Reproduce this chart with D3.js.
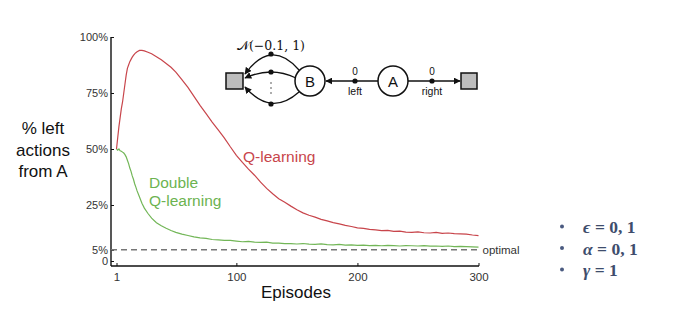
<!DOCTYPE html>
<html>
<head>
<meta charset="utf-8">
<script src="https://cdn.jsdelivr.net/npm/d3@7"></script>
<style>
  body { margin: 0; background: #fff; }
  text { font-family: "Liberation Sans", Arial, sans-serif; }
</style>
</head>
<body>
<div id="chart"></div>
<script>
var episodes = [1, 2, 3, 4, 5, 6, 7, 8, 9, 10, 11, 12, 13, 14, 15, 16, 17, 18, 20, 22, 24, 27, 30, 34, 38, 42, 46, 50, 55, 60, 65, 70, 75, 80, 85, 90, 95, 100,
  105, 110, 115, 120, 125, 130, 135, 140, 145, 150, 155, 160, 165, 170, 175, 180, 185, 190, 195, 200,
  205, 210, 215, 220, 225, 230, 235, 240, 245, 250, 255, 260, 265, 270, 275, 280, 285, 290, 295, 300]

// % left actions from A
var qLearning = [50, 55, 60, 64, 68, 71, 75, 79, 83, 86, 87.5, 89, 90, 91, 91.8, 92.5, 93, 93.4, 94, 94, 93.8, 93.2, 92.5, 91.2, 89.8, 88.2, 86.5, 84.3, 81, 77.5, 73.5, 69.5, 65.8, 62, 58.5, 55, 51, 47.2,
  44, 41, 38.3, 35.2, 32.4, 30, 27.8, 26.2, 24.5, 22.9, 21.5, 20.4, 19.6, 18.6, 17.9, 17.1, 16.6, 15.9, 15.4, 14.8,
  14.6, 14.1, 13.9, 13.6, 13.7, 13.2, 13.3, 12.9, 12.8, 13.0, 12.6, 12.5, 12.8, 12.3, 12.5, 12.2, 12.1, 12.0, 11.6, 11.3]
var doubleQ = [50, 49.5, 50, 49.2, 49, 48.6, 48.2, 47.5, 46.5, 45, 43.5, 41.5, 40, 38, 36.5, 34.5, 33, 31.3, 28.6, 25.8, 23.6, 21.2, 19.1, 17.1, 15.7, 14.6, 13.6, 12.8, 12, 11.4, 10.8, 10.3, 10.1, 9.6, 9.4, 9.2, 9.2, 8.9,
  8.6, 8.8, 8.4, 8.3, 8.4, 8.0, 8.0, 7.8, 7.8, 7.6, 7.8, 7.5, 7.4, 7.6, 7.3, 7.2, 7.4, 7.1, 7.2, 7.0,
  7.1, 6.9, 7.0, 6.8, 7.0, 6.9, 6.7, 6.9, 6.8, 6.7, 6.9, 6.6, 6.7, 6.5, 6.7, 6.4, 6.5, 6.4, 6.3, 6.2]

var optimal = 5
var yTicks = [0, 5, 25, 50, 75, 100]
var yTickLabels = ['0', '5%', '25%', '50%', '75%', '100%']
var xTicks = [1, 100, 200, 300]

var params = [{ sym: 'ϵ', val: ' = 0, 1' }, { sym: 'α', val: ' = 0, 1' }, { sym: 'γ', val: ' = 1' }]

var width = 678, height = 327

var svg = d3.select('#chart').append('svg')
  .attr('width', width)
  .attr('height', height)

var x = d3.scaleLinear().domain([1, 300]).range([116.5, 478.5])
var y = d3.scaleLinear().domain([0, 100]).range([261, 37])

var axisX0 = 111, axisY0 = 266

// axes lines
svg.append('line').attr('x1', axisX0).attr('x2', axisX0).attr('y1', y(100)).attr('y2', axisY0)
  .attr('stroke', '#111').attr('stroke-width', 1.4)
svg.append('line').attr('x1', axisX0).attr('x2', x(300) + 0.5).attr('y1', axisY0).attr('y2', axisY0)
  .attr('stroke', '#111').attr('stroke-width', 1.4)

var yAxis = svg.append('g')
  .attr('transform', `translate(${axisX0},0)`)
  .call(d3.axisLeft(y).tickValues(yTicks).tickSize(-3).tickPadding(3)
    .tickFormat(function (d, i) { return yTickLabels[i] }))
yAxis.select('.domain').remove()
yAxis.selectAll('text').attr('font-size', 11).attr('fill', '#333')
  .style('font-family', '"Liberation Sans", Arial, sans-serif')
yAxis.selectAll('line').attr('stroke', '#111')

var xAxis = svg.append('g')
  .attr('transform', `translate(0,${axisY0})`)
  .call(d3.axisBottom(x).tickValues(xTicks).tickSize(-3).tickPadding(7)
    .tickFormat(d3.format('d')))
xAxis.select('.domain').remove()
xAxis.selectAll('text').attr('font-size', 11.5).attr('fill', '#333')
  .style('font-family', '"Liberation Sans", Arial, sans-serif')
xAxis.selectAll('line').attr('stroke', '#111')

// optimal line
svg.append('line')
  .attr('x1', axisX0).attr('x2', x(300))
  .attr('y1', y(optimal)).attr('y2', y(optimal))
  .attr('stroke', '#777').attr('stroke-width', 1.4)
  .attr('stroke-dasharray', '6,4')
svg.append('text').attr('x', x(300) + 4).attr('y', y(optimal) + 4)
  .attr('font-size', 11.5).attr('fill', '#333').text('optimal')

// curves
var line = d3.line()
  .x(function (d) { return x(d[0]) })
  .y(function (d) { return y(d[1]) })

svg.append('path')
  .datum(d3.zip(episodes, doubleQ))
  .attr('d', line)
  .attr('fill', 'none')
  .attr('stroke', '#72b657')
  .attr('stroke-width', 1.2)

svg.append('path')
  .datum(d3.zip(episodes, qLearning))
  .attr('d', line)
  .attr('fill', 'none')
  .attr('stroke', '#c8454b')
  .attr('stroke-width', 1.2)

// labels
svg.append('text').attr('x', 243).attr('y', 162).attr('font-size', 15.5)
  .attr('fill', '#c8454b').text('Q-learning')
svg.append('text').attr('x', 149).attr('y', 188).attr('font-size', 15.5)
  .attr('fill', '#6cb350').text('Double')
svg.append('text').attr('x', 149).attr('y', 206).attr('font-size', 15.5)
  .attr('fill', '#6cb350').text('Q-learning')

// axis titles
var yTitle = ['% left', 'actions', 'from A']
svg.selectAll('.ytitle').data(yTitle).enter().append('text')
  .attr('x', 43).attr('y', function (d, i) { return 134 + i * 21.5 })
  .attr('text-anchor', 'middle').attr('font-size', 17).attr('fill', '#111')
  .text(function (d) { return d })

svg.append('text').attr('x', 296).attr('y', 298).attr('text-anchor', 'middle')
  .attr('font-size', 17).attr('fill', '#111').text('Episodes')

// MDP diagram
var defs = svg.append('defs')
defs.append('marker').attr('id', 'arr')
  .attr('viewBox', '0 0 10 10').attr('refX', 9).attr('refY', 5)
  .attr('markerWidth', 7).attr('markerHeight', 7)
  .attr('markerUnits', 'userSpaceOnUse')
  .attr('orient', 'auto')
  .append('path').attr('d', 'M0,0L10,5L0,10z').attr('fill', '#111')

var dg = svg.append('g')

// boxes
dg.append('rect').attr('x', 226).attr('y', 73).attr('width', 17).attr('height', 16)
  .attr('fill', '#bdbdbd').attr('stroke', '#111').attr('stroke-width', 1.5)
dg.append('rect').attr('x', 461).attr('y', 73).attr('width', 16).attr('height', 16)
  .attr('fill', '#bdbdbd').attr('stroke', '#111').attr('stroke-width', 1.5)

// arrows
dg.append('line').attr('x1', 378).attr('y1', 81).attr('x2', 326).attr('y2', 81)
  .attr('stroke', '#111').attr('stroke-width', 1.3).attr('marker-end', 'url(#arr)')
dg.append('line').attr('x1', 408).attr('y1', 81).attr('x2', 460).attr('y2', 81)
  .attr('stroke', '#111').attr('stroke-width', 1.3).attr('marker-end', 'url(#arr)')

var curves = ['M299,70 Q271,38 245,74', 'M296,78 Q271,66 245,78', 'M299,92 Q271,117 245,87']
dg.selectAll('.bc').data(curves).enter().append('path')
  .attr('d', function (d) { return d })
  .attr('fill', 'none').attr('stroke', '#111').attr('stroke-width', 1.3)
  .attr('marker-end', 'url(#arr)')

var dots = [[271, 54], [271, 72], [271, 104], [355, 81], [432, 81]]
dg.selectAll('.dot').data(dots).enter().append('circle')
  .attr('cx', function (d) { return d[0] }).attr('cy', function (d) { return d[1] })
  .attr('r', 2.6).attr('fill', '#111')
dg.selectAll('.vd').data([83, 88, 93]).enter().append('circle')
  .attr('cx', 271).attr('cy', function (d) { return d }).attr('r', 0.8).attr('fill', '#444')

// circles
var nodes = [{ name: 'B', cx: 310 }, { name: 'A', cx: 393 }]
dg.selectAll('.node').data(nodes).enter().append('circle')
  .attr('cx', function (d) { return d.cx }).attr('cy', 81).attr('r', 15)
  .attr('fill', '#fff').attr('stroke', '#111').attr('stroke-width', 1.5)
dg.selectAll('.nlab').data(nodes).enter().append('text')
  .attr('x', function (d) { return d.cx }).attr('y', 86.5).attr('text-anchor', 'middle')
  .attr('font-size', 15).attr('fill', '#111').text(function (d) { return d.name })

dg.selectAll('.zero').data([355, 432]).enter().append('text')
  .attr('x', function (d) { return d }).attr('y', 75).attr('text-anchor', 'middle')
  .attr('font-size', 10).attr('fill', '#111').text('0')
dg.append('text').attr('x', 355).attr('y', 95).attr('text-anchor', 'middle')
  .attr('font-size', 10.5).attr('fill', '#111').text('left')
dg.append('text').attr('x', 432).attr('y', 95).attr('text-anchor', 'middle')
  .attr('font-size', 10.5).attr('fill', '#111').text('right')
dg.append('text').attr('x', 271).attr('y', 50).attr('text-anchor', 'middle')
  .attr('font-size', 12.5).attr('fill', '#111')
  .style('font-family', '"DejaVu Serif", "Liberation Serif", serif')
  .text('𝒩(−0.1, 1)')

// parameter bullets
var pg = svg.append('g')
pg.selectAll('.bul').data(params).enter().append('circle')
  .attr('cx', 562).attr('cy', function (d, i) { return 226.5 + i * 21.5 })
  .attr('r', 2).attr('fill', '#4a5a80')
var pt = pg.selectAll('.ptxt').data(params).enter().append('text')
  .attr('x', 583).attr('y', function (d, i) { return 233 + i * 21.5 })
  .attr('font-size', 17.5).attr('fill', '#3e4d6c').attr('font-weight', 'bold')
  .style('font-family', '"Liberation Serif", "DejaVu Serif", serif')
pt.append('tspan').attr('font-style', 'italic').text(function (d) { return d.sym })
pt.append('tspan').text(function (d) { return d.val })
</script>
</body>
</html>
